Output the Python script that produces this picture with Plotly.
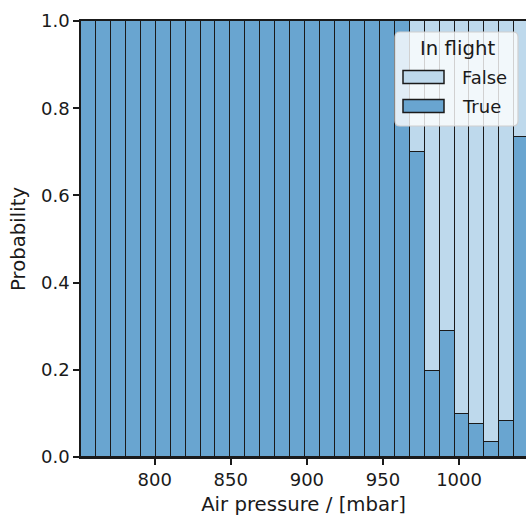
import plotly.graph_objects as go

# Data
bin_start = 751.6          # mbar, left edge of first bin
bin_width = 9.818          # mbar
n_bins = 30
true_fraction = [1.0] * 22 + [0.700, 0.198, 0.289, 0.098, 0.075, 0.034, 0.083, 0.735]
false_fraction = [1.0 - v for v in true_fraction]
hue_labels = ["False", "True"]
x_ticks = [800, 850, 900, 950, 1000]
y_ticks = [0.0, 0.2, 0.4, 0.6, 0.8, 1.0]

centers = [bin_start + bin_width * (i + 0.5) for i in range(n_bins)]

col_true = "#69a5d0"
col_false = "#bed9ec"
ink = "#1a1a1a"
FS = 18      # tick labels / legend entries
FL = 19.7    # axis titles / legend title

W, H = 526, 517
L, R, T, B = 81, 0, 21, 60

fig = go.Figure()
fig.add_trace(go.Bar(x=centers, y=true_fraction, width=bin_width, name="True",
                     marker=dict(color=col_true, line=dict(color=ink, width=1.3)),
                     showlegend=False))
fig.add_trace(go.Bar(x=centers, y=false_fraction, width=bin_width, name="False",
                     marker=dict(color=col_false, line=dict(color=ink, width=1.3)),
                     showlegend=False))

pw = W - L - R
ph = H - T - B
def px(x): return (x - L) / pw
def py(y): return (H - B - y) / ph

# Legend (custom, matplotlib style)
x0, x1, y0, y1, r = 395, 518, 32, 126, 5
path = (f"M {px(x0+r)},{py(y0)} L {px(x1-r)},{py(y0)} Q {px(x1)},{py(y0)} {px(x1)},{py(y0+r)} "
        f"L {px(x1)},{py(y1-r)} Q {px(x1)},{py(y1)} {px(x1-r)},{py(y1)} "
        f"L {px(x0+r)},{py(y1)} Q {px(x0)},{py(y1)} {px(x0)},{py(y1-r)} "
        f"L {px(x0)},{py(y0+r)} Q {px(x0)},{py(y0)} {px(x0+r)},{py(y0)} Z")
shapes = [dict(type="path", xref="paper", yref="paper", path=path,
               fillcolor="rgba(255,255,255,0.8)", line=dict(color="#d0d0d0", width=1.2))]
annotations = [dict(x=px(457.5), y=py(48), xref="paper", yref="paper", text="In flight",
                    showarrow=False, xanchor="center", yanchor="middle",
                    font=dict(size=FL, color=ink))]
for lab, col, yc in [("False", col_false, 77), ("True", col_true, 106)]:
    shapes.append(dict(type="rect", xref="paper", yref="paper",
                       x0=px(403), x1=px(444), y0=py(yc - 6.5), y1=py(yc + 6.5),
                       fillcolor=col, line=dict(color=ink, width=1.5)))
    annotations.append(dict(x=px(460), y=py(yc), xref="paper", yref="paper", text=lab,
                            showarrow=False, xanchor="left", yanchor="middle",
                            font=dict(size=FS, color=ink)))

fig.update_layout(
    width=W, height=H,
    margin=dict(l=L, r=R, t=T, b=B, pad=0),
    barmode="stack", bargap=0,
    plot_bgcolor="white", paper_bgcolor="white",
    font=dict(family="DejaVu Sans", size=FS, color=ink),
    shapes=shapes, annotations=annotations,
    xaxis=dict(range=[bin_start, 1044.0], tickvals=x_ticks, ticks="outside", ticklen=6,
               tickwidth=1.5, tickcolor=ink, showline=True, linecolor=ink,
               linewidth=1.5, mirror=True, showgrid=False, zeroline=False,
               tickfont=dict(size=FS, color=ink),
               title=dict(text="Air pressure / [mbar]", standoff=8,
                          font=dict(size=FL, color=ink))),
    yaxis=dict(range=[0, 1], tickvals=y_ticks, tickformat=".1f", ticks="outside", ticklen=6,
               tickwidth=1.5, tickcolor=ink, showline=True, linecolor=ink,
               linewidth=1.5, showgrid=False, zeroline=False,
               tickfont=dict(size=FS, color=ink),
               title=dict(text="Probability", standoff=10,
                          font=dict(size=FL, color=ink))),
)

fig.write_html("out.html", config={"displayModeBar": False},
               post_script="document.body.style.margin='0px';")
